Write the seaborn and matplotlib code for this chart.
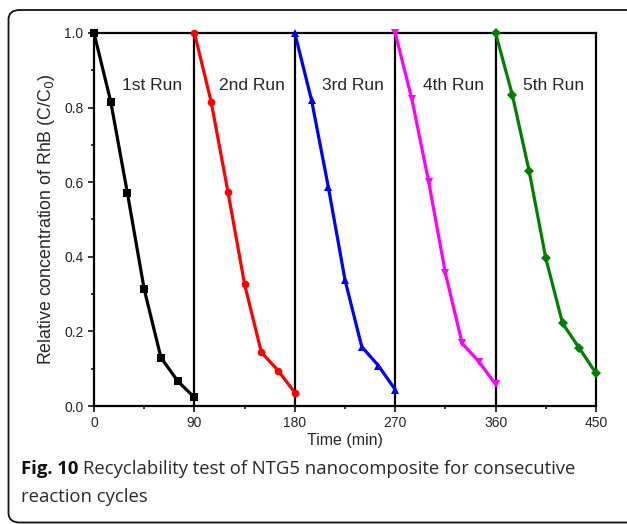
import numpy as np
import pandas as pd
import matplotlib
matplotlib.use("Agg")
import matplotlib.pyplot as plt
import seaborn as sns
from matplotlib.patches import FancyBboxPatch
from matplotlib.ticker import MultipleLocator

sns.set_style("white")
plt.rcParams['font.family'] = ['Liberation Sans', 'DejaVu Sans']

# Data
run_labels = ["1st Run", "2nd Run", "3rd Run", "4th Run", "5th Run"]
time_offsets = [0, 15, 30, 45, 60, 75, 90]
run1 = [1.0, 0.816, 0.570, 0.313, 0.130, 0.067, 0.023]
run2 = [1.0, 0.816, 0.575, 0.326, 0.144, 0.095, 0.036]
run3 = [1.0, 0.820, 0.588, 0.338, 0.159, 0.108, 0.044]
run4 = [1.0, 0.822, 0.601, 0.356, 0.168, 0.119, 0.058]
run5 = [1.0, 0.834, 0.631, 0.396, 0.222, 0.155, 0.088]
runs = [run1, run2, run3, run4, run5]
run_starts = [0, 90, 180, 270, 360]
separators = [90, 180, 270, 360]
colors = ["#000000", "#ff0000", "#0000ff", "#ff00ff", "#008000"]
markers = ["s", "o", "^", "v", "D"]
xticks = [0, 90, 180, 270, 360, 450]
yticks = [0.0, 0.2, 0.4, 0.6, 0.8, 1.0]

fig = plt.figure(figsize=(6.27, 5.24), dpi=100)
ax = fig.add_axes([94/627, 1-406/524, (596-94)/627, (406-33)/524])

for sep in separators:
    ax.axvline(sep, color="black", lw=1.6, zorder=1)

for i, (lab, vals, start) in enumerate(zip(run_labels, runs, run_starts)):
    df = pd.DataFrame({"t": [start + o for o in time_offsets], "c": vals})
    sns.lineplot(data=df, x="t", y="c", ax=ax, color=colors[i], marker=markers[i],
                 markersize=5.5 if markers[i] != "D" else 4.8, markeredgewidth=0,
                 lw=2.3, zorder=3, clip_on=False)
    ax.text(start + 45 + 7, 0.86, lab, fontsize=12.5, ha="center", va="center")

ax.set_xlim(0, 450)
ax.set_ylim(0, 1.0)
ax.set_xticks(xticks)
ax.set_yticks(yticks)
ax.set_xticklabels([str(v) for v in xticks])
ax.set_yticklabels([f"{v:.1f}" for v in yticks])
ax.xaxis.set_minor_locator(MultipleLocator(45))
ax.yaxis.set_minor_locator(MultipleLocator(0.1))
ax.tick_params(axis="both", which="major", direction="out", length=4.5, width=1.3,
               labelsize=10, bottom=True, left=True, top=False, right=False, pad=3)
ax.tick_params(axis="both", which="minor", direction="out", length=2.5, width=1.3,
               bottom=True, left=True, top=False, right=False)
for sp in ax.spines.values():
    sp.set_linewidth(1.6)
    sp.set_color("black")
ax.set_xlabel("Time (min)", fontsize=11.5, labelpad=2)
ax.set_ylabel("Relative concentration of RhB (C/C$_0$)", fontsize=12.8, labelpad=5)

# Border box
box = FancyBboxPatch((8.5/627, 1.5/524), (660-8.5)/627, (514-1.5)/524,
                     boxstyle="round,pad=0,rounding_size=0.018",
                     transform=fig.transFigure, fill=False, ec="#111111", lw=1.3,
                     clip_on=False)
fig.patches.append(box)

# Caption
cap_fs = 13.3
t_bold = fig.text(21/627, 1-469/524, "Fig. 10", fontsize=cap_fs, va="center", ha="left",
                  family="Open Sans", fontweight="bold", color="#111111")
fig.canvas.draw()
bb = t_bold.get_window_extent(renderer=fig.canvas.get_renderer())
x_next = (bb.x1 + 5) / fig.bbox.width
fig.text(x_next, 1-469/524, "Recyclability test of NTG5 nanocomposite for consecutive",
         fontsize=cap_fs, va="center", ha="left", family="Open Sans", color="#2a2a2a")
fig.text(21/627, 1-497/524, "reaction cycles",
         fontsize=cap_fs, va="center", ha="left", family="Open Sans", color="#2a2a2a")

fig.savefig("out.png", dpi=100)
